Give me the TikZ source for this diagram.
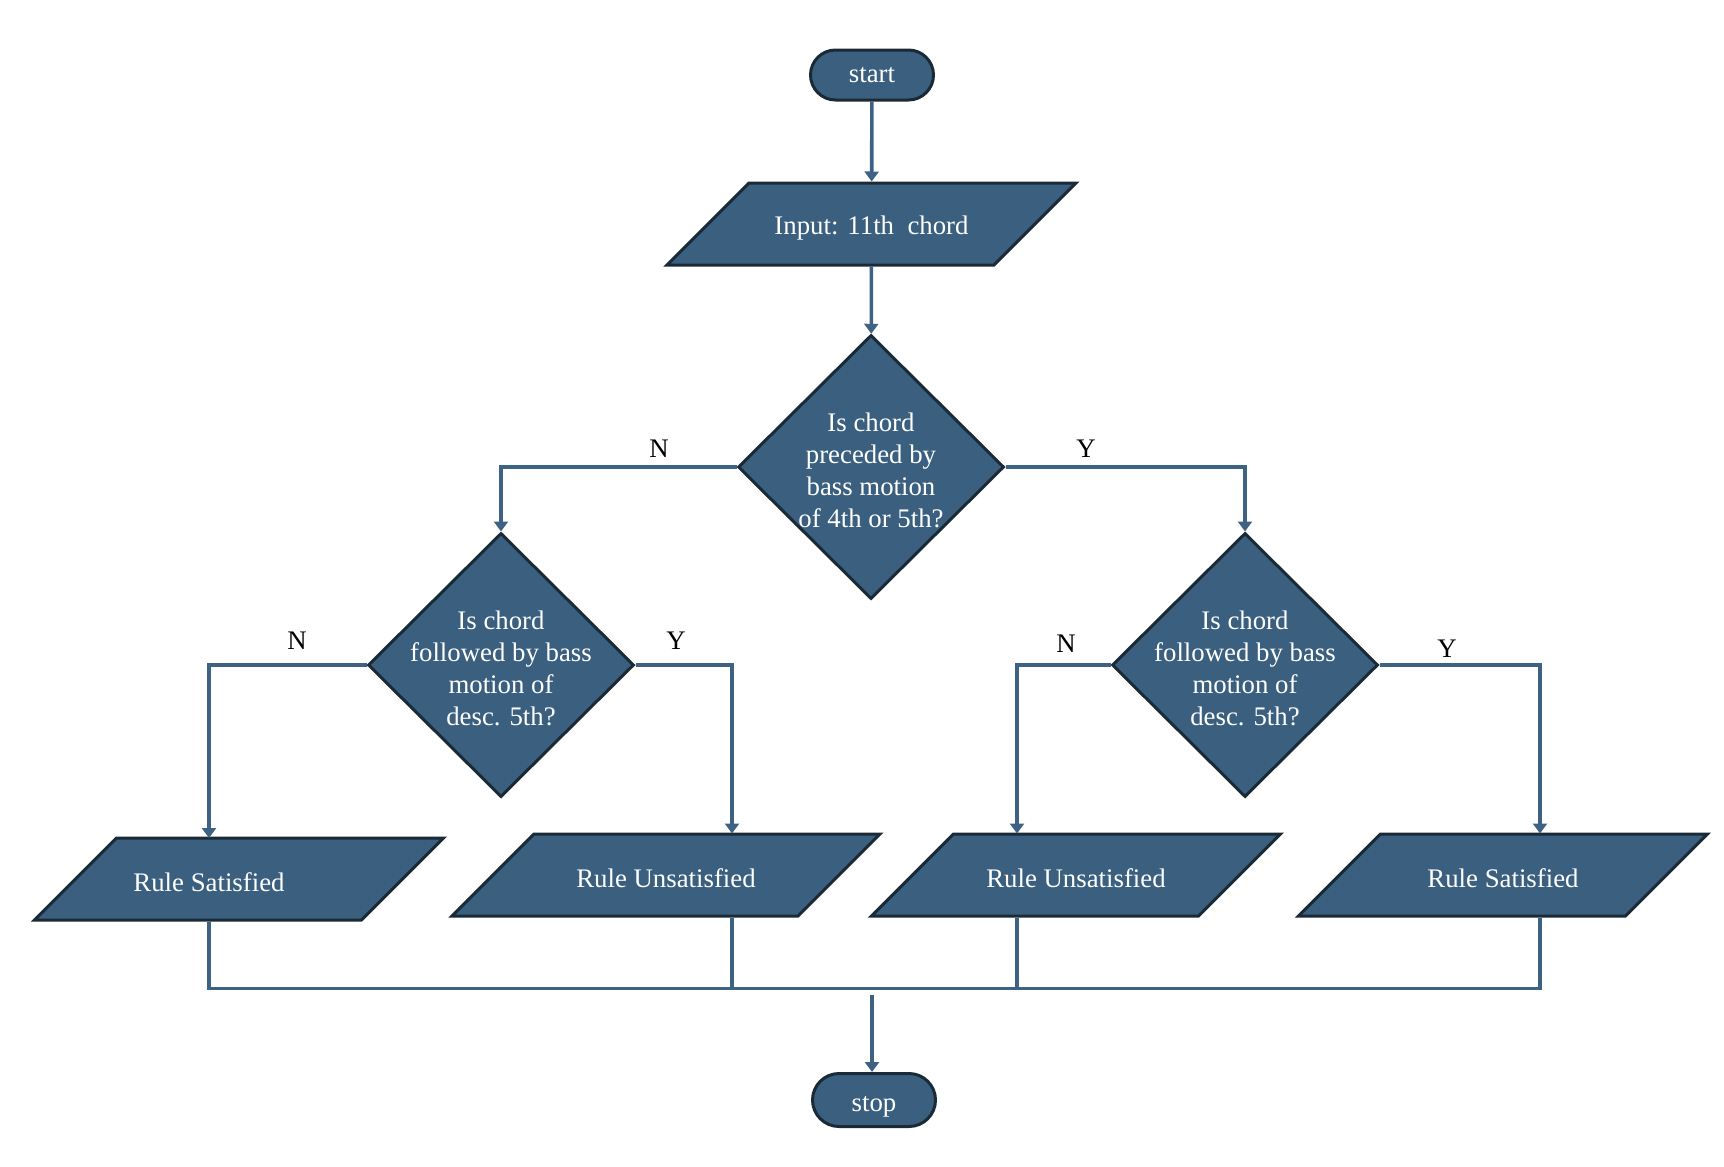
\documentclass[tikz,border=0pt]{standalone}
\usepackage{fontspec}
\setmainfont{Liberation Serif}
\usepackage{xcolor}
\usepackage{tikz}
\usetikzlibrary{shapes.geometric,shapes.misc,arrows.meta}

\definecolor{boxfill}{HTML}{3A5F7F}
\definecolor{boxedge}{HTML}{1B2A37}
\definecolor{flowline}{HTML}{3D6283}

\begin{document}
\begin{tikzpicture}[x=0.5pt,y=-0.5pt,
  every node/.style={font=\fontsize{13.4}{16}\selectfont},
  terminal/.style={rounded rectangle, draw=boxedge, fill=boxfill, line width=1.5pt,
    text=white, minimum width=61.5pt, minimum height=25pt, inner sep=0pt},
  io/.style={trapezium, trapezium left angle=45, trapezium right angle=135,
    trapezium stretches body, draw=boxedge, fill=boxfill, line width=1.5pt,
    text=white, minimum width=204.5pt, text height=12.5pt, text depth=0.5pt,
    inner ysep=14pt, inner xsep=2pt},
  decision/.style={diamond, draw=boxedge, fill=boxfill, line width=1.5pt,
    minimum width=133pt, minimum height=132pt, inner sep=0pt},
  dtext/.style={text=white, align=center, yshift=-1.6pt},
  flow/.style={draw=flowline, line width=1.8pt},
  arr/.style={flow, -{Triangle[width=7pt,length=5pt]}},
  yn/.style={text=black}
]
  \useasboundingbox (0,0) rectangle (1724,1167);

  \node[terminal] (start) at (872,75) {start};
  \node[io, text height=11.5pt, text depth=1.5pt] (input) at (871.5,224) {Input: 11th\ \ chord};

  \node[decision, label={[dtext]center:Is chord\\preceded by\\bass motion\\of 4th or 5th?}] (d1) at (871,467) {};
  \node[decision, label={[dtext]center:Is chord\\followed by bass\\motion of\\desc. 5th?}] (dl) at (501,665) {};
  \node[decision, label={[dtext]center:Is chord\\followed by bass\\motion of\\desc. 5th?}] (dr) at (1245,665) {};

  \node[io, label={[dtext,xshift=-15pt]center:Rule Satisfied}] (p1) at (239,879) {};
  \node[io, minimum width=214pt] (p2) at (666,875) {Rule Unsatisfied};
  \node[io] (p3) at (1076,875) {Rule Unsatisfied};
  \node[io] (p4) at (1503,875) {Rule Satisfied};

  \node[terminal, minimum height=26.5pt, text height=13pt, text depth=2pt] (stop) at (874,1100) {stop};

  \node[yn] (n1) at (659,449) {N};
  \node[yn] (y1) at (1086,449) {Y};
  \node[yn] (n2) at (297,641) {N};
  \node[yn] (y2) at (676,641) {Y};
  \node[yn] (n3) at (1066,644) {N};
  \node[yn] (y3) at (1447,649) {Y};

  \coordinate (c1) at (209,838);
  \coordinate (c2) at (732,833.5);
  \coordinate (c3) at (1017,833.5);
  \coordinate (c4) at (1540,833.5);
  \coordinate (busl) at (209,988.5);
  \coordinate (busr) at (1540,988.5);
  \coordinate (merge) at (872,995);

  \draw[arr] (start) -- (input);
  \draw[arr] (input) -- (d1);
  \draw[arr] (d1.west) -| (dl.north);
  \draw[arr] (d1.east) -| (dr.north);
  \draw[arr] (dl.west) -| (c1);
  \draw[arr] (dl.east) -| (c2);
  \draw[arr] (dr.west) -| (c3);
  \draw[arr] (dr.east) -| (c4);

  \draw[flow] (c1 |- p1.south) -- (busl) -- (busr) -- (c4 |- p4.south);
  \draw[flow] (c2 |- p2.south) -- (c2 |- busl);
  \draw[flow] (c3 |- p3.south) -- (c3 |- busl);
  \draw[arr] (merge) -- (merge |- stop.north);
\end{tikzpicture}
\end{document}
